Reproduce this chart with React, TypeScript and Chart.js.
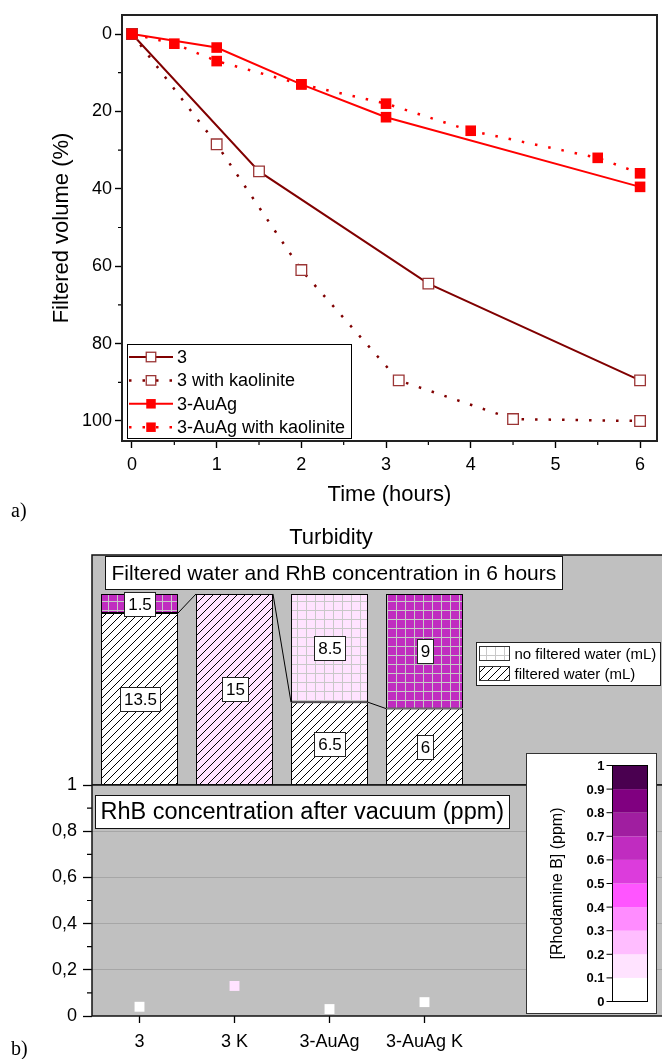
import React, { useEffect, useRef } from 'react';
import { Chart, registerables } from 'chart.js';

Chart.register(...registerables);

const FONT = "'Liberation Sans', Arial, Helvetica, sans-serif";

// ---------- a) Filtered volume vs time ----------
const A_SERIES = ['3', '3 with kaolinite', '3-AuAg', '3-AuAg with kaolinite'];
const A_TIME_3 = [0, 1.5, 3.5, 6];
const A_VOL_3 = [0, 35.5, 64.5, 89.5];
const A_TIME_3K = [0, 1, 2, 3.15, 4.5, 6];
const A_VOL_3K = [0, 28.5, 61, 89.5, 99.5, 100];
const A_TIME_AUAG = [0, 1, 2, 3, 6];
const A_VOL_AUAG = [0, 3.5, 13, 21.5, 39.5];
const A_TIME_AUAGK = [0, 0.5, 1, 2, 3, 4, 5.5, 6];
const A_VOL_AUAGK = [0, 2.5, 7, 13, 18, 25, 32, 36];
const A_X_TICKS = [0, 1, 2, 3, 4, 5, 6];
const A_X_MINOR = [0.5, 1.5, 2.5, 3.5, 4.5, 5.5];
const A_Y_TICKS = [0, 20, 40, 60, 80, 100];
const A_Y_MINOR = [10, 30, 50, 70, 90];

// ---------- b) Turbidity ----------
const B_SAMPLES = ['3', '3 K', '3-AuAg', '3-AuAg K'];
const B_FILTERED = [13.5, 15, 6.5, 6];
const B_NOT_FILTERED = [1.5, null, 8.5, 9];
const B_RHB_RETAINED = [0.65, 0, 0.15, 0.65];
const B_RHB_VACUUM = [0.04, 0.13, 0.03, 0.06];
const B_Y_TICKS = [0, 0.2, 0.4, 0.6, 0.8, 1];
const B_Y_MINOR = [0.1, 0.3, 0.5, 0.7, 0.9];
const CB_LEVELS = [0, 0.1, 0.2, 0.3, 0.4, 0.5, 0.6, 0.7, 0.8, 0.9, 1];
const CB_COLORS = ['#ffffff', '#ffe3ff', '#ffbdff', '#ff8cff', '#ff55ff', '#dc3cdc', '#c02cc0', '#a01ea0', '#800080', '#4a0050'];

const DARK = '#800000';
const DARK_MARK = '#9b3535';
const RED = '#ff0000';
const PANEL_BG = '#c0c0c0';

function cmap(v: number | null): string {
  const val = v == null ? 0 : v;
  for (let i = 0; i < CB_COLORS.length; i++) {
    if (val >= CB_LEVELS[i] && val < CB_LEVELS[i + 1]) return CB_COLORS[i];
  }
  return CB_COLORS[CB_COLORS.length - 1];
}

function hatchPattern(ctx: CanvasRenderingContext2D, fill: string) {
  const s = 8;
  const c = document.createElement('canvas');
  c.width = s; c.height = s;
  const g = c.getContext('2d')!;
  g.fillStyle = fill; g.fillRect(0, 0, s, s);
  g.strokeStyle = '#000'; g.lineWidth = 1;
  g.beginPath();
  g.moveTo(-1, s + 1); g.lineTo(s + 1, -1);
  g.moveTo(-1, 1); g.lineTo(1, -1);
  g.moveTo(s - 1, s + 1); g.lineTo(s + 1, s - 1);
  g.stroke();
  return ctx.createPattern(c, 'repeat')!;
}

function gridPattern(ctx: CanvasRenderingContext2D, fill: string) {
  const s = 9;
  const c = document.createElement('canvas');
  c.width = s; c.height = s;
  const g = c.getContext('2d')!;
  g.fillStyle = fill; g.fillRect(0, 0, s, s);
  g.strokeStyle = '#c8c8c8'; g.lineWidth = 1;
  g.beginPath();
  g.moveTo(0.5, 0); g.lineTo(0.5, s);
  g.moveTo(0, 0.5); g.lineTo(s, 0.5);
  g.stroke();
  return ctx.createPattern(c, 'repeat')!;
}

const pts = (xs: number[], ys: number[]) => xs.map((x, i) => ({ x, y: ys[i] }));

function drawSquare(ctx: CanvasRenderingContext2D, x: number, y: number, side: number, fill: string, stroke: string, lw: number) {
  ctx.fillStyle = fill;
  ctx.fillRect(x - side / 2, y - side / 2, side, side);
  if (lw > 0) {
    ctx.strokeStyle = stroke; ctx.lineWidth = lw;
    ctx.strokeRect(x - side / 2, y - side / 2, side, side);
  }
}

function makeChartA(canvas: HTMLCanvasElement) {
  const decoA = {
    id: 'decoA',
    afterDraw(chart: any) {
      const { ctx, chartArea: ca, scales } = chart;
      const x = scales.x, y = scales.y;
      ctx.save();
      // minor ticks
      ctx.strokeStyle = '#000'; ctx.lineWidth = 1.2;
      ctx.beginPath();
      for (const v of A_X_MINOR) { const px = x.getPixelForValue(v); ctx.moveTo(px, ca.bottom); ctx.lineTo(px, ca.bottom + 4); }
      for (const v of A_Y_MINOR) { const py = y.getPixelForValue(v); ctx.moveTo(ca.left, py); ctx.lineTo(ca.left - 4, py); }
      ctx.stroke();
      // frame
      ctx.strokeStyle = '#222'; ctx.lineWidth = 2;
      ctx.strokeRect(ca.left, ca.top, ca.right - ca.left, ca.bottom - ca.top);
      // legend
      const lx = ca.left + 5, ly = ca.bottom - 97, lw = 224, lh = 94;
      ctx.fillStyle = '#fff'; ctx.fillRect(lx, ly, lw, lh);
      ctx.strokeStyle = '#000'; ctx.lineWidth = 1;
      ctx.strokeRect(lx + 0.5, ly + 0.5, lw, lh);
      ctx.font = `18px ${FONT}`; ctx.textBaseline = 'middle'; ctx.textAlign = 'left';
      chart.data.datasets.forEach((ds: any, i: number) => {
        const ry = ly + 13 + i * 23.4;
        ctx.save();
        ctx.strokeStyle = ds.borderColor; ctx.lineWidth = ds.borderWidth;
        ctx.setLineDash(ds.borderDash || []);
        ctx.beginPath(); ctx.moveTo(lx + 2, ry); ctx.lineTo(lx + 46, ry); ctx.stroke();
        ctx.restore();
        drawSquare(ctx, lx + 24, ry, 9.5, ds.pointBackgroundColor, ds.pointBorderColor, ds.pointBorderWidth);
        ctx.fillStyle = '#000';
        ctx.fillText(ds.label, lx + 50, ry + 1);
      });
      ctx.restore();
    },
  };

  const common = { pointStyle: 'rect', pointRadius: 7.5, pointHoverRadius: 7.5, tension: 0, fill: false, clip: false };
  return new Chart(canvas, {
    type: 'line',
    data: {
      datasets: [
        { ...common, label: A_SERIES[0], data: pts(A_TIME_3, A_VOL_3), borderColor: DARK, borderWidth: 2, pointBackgroundColor: '#fff', pointBorderColor: DARK_MARK, pointBorderWidth: 1.3, order: 3 },
        { ...common, label: A_SERIES[1], data: pts(A_TIME_3K, A_VOL_3K), borderColor: DARK, borderWidth: 2.5, borderDash: [2.5, 11], pointBackgroundColor: '#fff', pointBorderColor: DARK_MARK, pointBorderWidth: 1.3, order: 2 },
        { ...common, label: A_SERIES[2], data: pts(A_TIME_AUAG, A_VOL_AUAG), borderColor: RED, borderWidth: 2, pointBackgroundColor: RED, pointBorderColor: RED, pointBorderWidth: 0, order: 1 },
        { ...common, label: A_SERIES[3], data: pts(A_TIME_AUAGK, A_VOL_AUAGK), borderColor: RED, borderWidth: 2.5, borderDash: [2.5, 11], pointBackgroundColor: RED, pointBorderColor: RED, pointBorderWidth: 0, order: 0 },
      ] as any,
    },
    options: {
      animation: false,
      responsive: false,
      events: [],
      layout: { autoPadding: false, padding: { left: 0, right: 5, top: 15, bottom: 0 } },
      plugins: { legend: { display: false }, tooltip: { enabled: false } },
      scales: {
        x: {
          type: 'linear', min: -0.118, max: 6.2,
          afterBuildTicks: (s: any) => { s.ticks = A_X_TICKS.map(v => ({ value: v })); },
          afterFit: (s: any) => { s.height = 79; s.paddingLeft = 0; s.paddingRight = 0; },
          ticks: { font: { family: FONT, size: 18 }, color: '#000', padding: 6, maxRotation: 0 },
          grid: { drawOnChartArea: false, tickLength: 7, tickColor: '#000', tickWidth: 1.4 },
          border: { display: false },
          title: { display: true, text: 'Time (hours)', font: { family: FONT, size: 22 }, color: '#000', padding: { top: 0, bottom: 11.8 } },
        },
        y: {
          type: 'linear', reverse: true, min: -4.91, max: 105.17,
          afterBuildTicks: (s: any) => { s.ticks = A_Y_TICKS.map(v => ({ value: v })); },
          afterFit: (s: any) => { s.width = 122; s.paddingTop = 0; s.paddingBottom = 0; },
          ticks: { font: { family: FONT, size: 18 }, color: '#000', padding: 3 },
          grid: { drawOnChartArea: false, tickLength: 7, tickColor: '#000', tickWidth: 1.4 },
          border: { display: false },
          title: { display: true, text: 'Filtered volume (%)', font: { family: FONT, size: 22 }, color: '#000', padding: { top: 48.8, bottom: 0 } },
        },
      },
    } as any,
    plugins: [decoA],
  });
}

function labelBox(ctx: CanvasRenderingContext2D, text: string, cx: number, cy: number, font: string, h: number, padX: number) {
  ctx.font = font;
  const w = Math.round(ctx.measureText(text).width + 2 * padX);
  const x = Math.round(cx - w / 2) + 0.5, y = Math.round(cy - h / 2) + 0.5;
  ctx.fillStyle = '#fff'; ctx.fillRect(x, y, w, h);
  ctx.strokeStyle = '#222'; ctx.lineWidth = 1; ctx.strokeRect(x, y, w, h);
  ctx.fillStyle = '#000'; ctx.textAlign = 'center'; ctx.textBaseline = 'middle';
  ctx.fillText(text, x + w / 2, y + h / 2 + 1);
}

function makeChartB1(canvas: HTMLCanvasElement) {
  const ctx2d = canvas.getContext('2d')!;
  const filteredFill = B_RHB_VACUUM.map(v => hatchPattern(ctx2d, cmap(v)));
  const retainedFill = B_RHB_RETAINED.map(v => gridPattern(ctx2d, cmap(v)));
  const legendHatch = hatchPattern(ctx2d, '#ffffff');
  const legendGrid = gridPattern(ctx2d, '#ffffff');

  const decoB1 = {
    id: 'decoB1',
    beforeDatasetsDraw(chart: any) {
      const { ctx, chartArea: ca } = chart;
      ctx.save(); ctx.fillStyle = PANEL_BG;
      ctx.fillRect(ca.left, ca.top, ca.right - ca.left, ca.bottom - ca.top);
      ctx.restore();
    },
    afterDatasetsDraw(chart: any) {
      const { ctx, chartArea: ca } = chart;
      ctx.save();
      // connecting lines between filtered tops
      const m0 = chart.getDatasetMeta(0).data;
      ctx.strokeStyle = '#000'; ctx.lineWidth = 1;
      ctx.beginPath();
      for (let i = 0; i < m0.length - 1; i++) {
        const a = m0[i], b = m0[i + 1];
        ctx.moveTo(a.x + a.width / 2, a.y); ctx.lineTo(b.x - b.width / 2, b.y);
      }
      ctx.stroke();
      // value labels
      chart.data.datasets.forEach((ds: any, di: number) => {
        chart.getDatasetMeta(di).data.forEach((el: any, i: number) => {
          const v = ds.data[i];
          if (v == null) return;
          labelBox(ctx, String(v), el.x, (el.y + el.base) / 2, `17px ${FONT}`, 24, 3.5);
        });
      });
      // frame
      ctx.strokeStyle = '#111'; ctx.lineWidth = 1.5;
      ctx.beginPath();
      ctx.moveTo(ca.left, ca.bottom); ctx.lineTo(ca.left, ca.top); ctx.lineTo(ca.right, ca.top);
      ctx.moveTo(ca.left, ca.bottom); ctx.lineTo(ca.right, ca.bottom);
      ctx.stroke();
      // title box
      ctx.font = `21px ${FONT}`;
      const t = 'Filtered water and RhB concentration in 6 hours';
      const tw = Math.round(ctx.measureText(t).width + 12);
      const bx = ca.left + 13.5, by = ca.top + 1.5;
      ctx.fillStyle = '#fff'; ctx.fillRect(bx, by, tw, 33);
      ctx.strokeStyle = '#111'; ctx.lineWidth = 1; ctx.strokeRect(bx, by, tw, 33);
      ctx.fillStyle = '#000'; ctx.textAlign = 'left'; ctx.textBaseline = 'middle';
      ctx.fillText(t, bx + 6, by + 17.5);
      // pattern legend
      const lx = ca.left + 384.5, ly = ca.top + 87.5, lw = 184, lh = 43;
      ctx.fillStyle = '#fff'; ctx.fillRect(lx, ly, lw, lh);
      ctx.strokeStyle = '#222'; ctx.strokeRect(lx, ly, lw, lh);
      const items = [
        { fill: legendGrid, text: chart.data.datasets[1].label },
        { fill: legendHatch, text: chart.data.datasets[0].label },
      ];
      ctx.font = `15px ${FONT}`;
      items.forEach((it, i) => {
        const ry = ly + 11 + i * 20;
        ctx.fillStyle = it.fill; ctx.fillRect(lx + 3, ry - 7, 30, 14);
        ctx.strokeStyle = '#333'; ctx.strokeRect(lx + 3, ry - 7, 30, 14);
        ctx.fillStyle = '#000'; ctx.textAlign = 'left'; ctx.textBaseline = 'middle';
        ctx.fillText(it.text, lx + 38, ry + 1);
      });
      ctx.restore();
    },
  };

  return new Chart(canvas, {
    type: 'bar',
    data: {
      labels: [...B_SAMPLES, '', ''],
      datasets: [
        { label: 'filtered water (mL)', data: B_FILTERED, backgroundColor: filteredFill, borderColor: '#000', borderWidth: 1, borderSkipped: false, stack: 'w', barPercentage: 0.81, categoryPercentage: 1 },
        { label: 'no filtered water (mL)', data: B_NOT_FILTERED, backgroundColor: retainedFill, borderColor: '#000', borderWidth: 1, borderSkipped: false, stack: 'w', barPercentage: 0.81, categoryPercentage: 1 },
      ] as any,
    },
    options: {
      animation: false,
      responsive: false,
      events: [],
      layout: { autoPadding: false, padding: { left: 0, right: 0, top: 0, bottom: 0 } },
      plugins: {
        legend: { display: false },
        tooltip: { enabled: false },
        title: { display: true, text: 'Turbidity', font: { family: FONT, size: 22, weight: 'normal' }, color: '#000', padding: { top: 4.8, bottom: 3.8 } },
      },
      scales: {
        x: { stacked: true, display: false },
        y: {
          stacked: true, min: 0, max: 18.06,
          ticks: { display: false }, grid: { display: false }, border: { display: false },
          afterFit: (s: any) => { s.width = 92; },
        },
      },
    } as any,
    plugins: [decoB1],
  });
}

function makeChartB2(canvas: HTMLCanvasElement) {
  const decoB2 = {
    id: 'decoB2',
    beforeDraw(chart: any) {
      const { ctx, chartArea: ca } = chart;
      ctx.save(); ctx.fillStyle = PANEL_BG;
      ctx.fillRect(ca.left, ca.top, ca.right - ca.left, ca.bottom - ca.top);
      ctx.restore();
    },
    afterDraw(chart: any) {
      const { ctx, chartArea: ca, scales } = chart;
      const y = scales.y;
      ctx.save();
      // minor ticks
      ctx.strokeStyle = '#000'; ctx.lineWidth = 1.2;
      ctx.beginPath();
      for (const v of B_Y_MINOR) { const py = y.getPixelForValue(v); ctx.moveTo(ca.left, py); ctx.lineTo(ca.left - 5, py); }
      ctx.stroke();
      // frame
      ctx.strokeStyle = '#111'; ctx.lineWidth = 1.5;
      ctx.beginPath();
      ctx.moveTo(ca.left, ca.top); ctx.lineTo(ca.left, ca.bottom); ctx.lineTo(ca.right, ca.bottom);
      ctx.moveTo(ca.left, ca.top); ctx.lineTo(ca.right, ca.top);
      ctx.stroke();
      // RhB title box
      ctx.font = `23.5px ${FONT}`;
      const t = 'RhB concentration after vacuum (ppm)';
      const tw = Math.round(ctx.measureText(t).width + 10);
      const bx = ca.left + 3.5, by = ca.top + 10.5;
      ctx.fillStyle = '#fff'; ctx.fillRect(bx, by, tw, 33);
      ctx.strokeStyle = '#111'; ctx.lineWidth = 1; ctx.strokeRect(bx, by, tw, 33);
      ctx.fillStyle = '#000'; ctx.textAlign = 'left'; ctx.textBaseline = 'middle';
      ctx.fillText(t, bx + 5, by + 17.5);
      // colour-scale legend
      const lx = ca.right - 135.5, ly = ca.top - 31.5, lw = 130, lh = 260;
      ctx.fillStyle = '#fff'; ctx.fillRect(lx, ly, lw, lh);
      ctx.strokeStyle = '#333'; ctx.lineWidth = 1; ctx.strokeRect(lx, ly, lw, lh);
      const cbx = lx + 86, cbw = 35, cbTop = ly + 12, cbBot = ly + lh - 12;
      const lvlPx = (v: number) => cbBot - (v - CB_LEVELS[0]) / (CB_LEVELS[CB_LEVELS.length - 1] - CB_LEVELS[0]) * (cbBot - cbTop);
      for (let i = 0; i < CB_COLORS.length; i++) {
        const y0 = lvlPx(CB_LEVELS[i]), y1 = lvlPx(CB_LEVELS[i + 1]);
        ctx.fillStyle = CB_COLORS[i];
        ctx.fillRect(cbx, y1, cbw, y0 - y1);
      }
      ctx.strokeStyle = '#000'; ctx.strokeRect(cbx, cbTop, cbw, cbBot - cbTop);
      ctx.font = `bold 13px ${FONT}`; ctx.textAlign = 'right'; ctx.textBaseline = 'middle';
      ctx.beginPath();
      CB_LEVELS.forEach(v => {
        const py = lvlPx(v);
        ctx.moveTo(cbx - 6, py); ctx.lineTo(cbx, py);
        ctx.fillStyle = '#000';
        ctx.fillText(String(v), cbx - 8, py + 1);
      });
      ctx.stroke();
      ctx.save();
      ctx.translate(lx + 31, (cbTop + cbBot) / 2);
      ctx.rotate(-Math.PI / 2);
      ctx.font = `16px ${FONT}`; ctx.textAlign = 'center'; ctx.textBaseline = 'middle';
      ctx.fillText('[Rhodamine B] (ppm)', 0, 0);
      ctx.restore();
      ctx.restore();
    },
  };

  return new Chart(canvas, {
    type: 'line',
    data: {
      labels: [...B_SAMPLES, '', ''],
      datasets: [
        { label: 'RhB after vacuum', data: B_RHB_VACUUM, showLine: false, pointStyle: 'rect', pointRadius: 7, pointHoverRadius: 7, pointBackgroundColor: B_RHB_VACUUM.map(cmap), pointBorderColor: 'rgba(0,0,0,0)', pointBorderWidth: 0, clip: false },
      ] as any,
    },
    options: {
      animation: false,
      responsive: false,
      events: [],
      layout: { autoPadding: false, padding: { left: 0, right: 0, top: 45, bottom: 0 } },
      plugins: { legend: { display: false }, tooltip: { enabled: false } },
      scales: {
        x: {
          type: 'category', offset: true,
          afterFit: (s: any) => { s.height = 43; s.paddingLeft = 0; s.paddingRight = 0; },
          ticks: { font: { family: FONT, size: 18 }, color: '#000', padding: 8, autoSkip: false, maxRotation: 0 },
          grid: { drawOnChartArea: false, offset: false, tickLength: 7, tickWidth: 1.3, tickColor: (c: any) => (c.index < B_SAMPLES.length ? '#000' : 'rgba(0,0,0,0)') },
          border: { display: false },
        },
        y: {
          min: 0, max: 1,
          afterBuildTicks: (s: any) => { s.ticks = B_Y_TICKS.map(v => ({ value: v })); },
          afterFit: (s: any) => { s.width = 92; s.paddingTop = 0; s.paddingBottom = 0; },
          ticks: { font: { family: FONT, size: 18 }, color: '#000', padding: 6, callback: (v: any) => String(v).replace('.', ',') },
          grid: {
            color: (c: any) => (c.tick && (c.tick.value === 0 || c.tick.value === 1) ? 'rgba(0,0,0,0)' : '#a6a6a6'),
            tickColor: '#000', tickLength: 9, tickWidth: 1.3, lineWidth: 1,
          },
          border: { display: false },
        },
      },
    } as any,
    plugins: [decoB2],
  });
}

export default function App() {
  const refA = useRef<HTMLCanvasElement>(null);
  const refB1 = useRef<HTMLCanvasElement>(null);
  const refB2 = useRef<HTMLCanvasElement>(null);

  useEffect(() => {
    const charts = [makeChartA(refA.current!), makeChartB1(refB1.current!), makeChartB2(refB2.current!)];
    return () => charts.forEach(c => c.destroy());
  }, []);

  const serif = "20px 'Liberation Serif', 'Times New Roman', serif";
  return (
    <div style={{ position: 'absolute', left: 0, top: 0, width: 662, height: 1059, overflow: 'hidden', background: '#fff' }}>
      <canvas ref={refA} width={662} height={520} style={{ position: 'absolute', left: 0, top: 0 }} />
      <canvas ref={refB1} width={662} height={265} style={{ position: 'absolute', left: 0, top: 520 }} />
      <canvas ref={refB2} width={662} height={319} style={{ position: 'absolute', left: 0, top: 740 }} />
      <div style={{ position: 'absolute', left: 11, top: 500, font: serif, lineHeight: '20px' }}>a)</div>
      <div style={{ position: 'absolute', left: 11, top: 1038, font: serif, lineHeight: '20px' }}>b)</div>
    </div>
  );
}
